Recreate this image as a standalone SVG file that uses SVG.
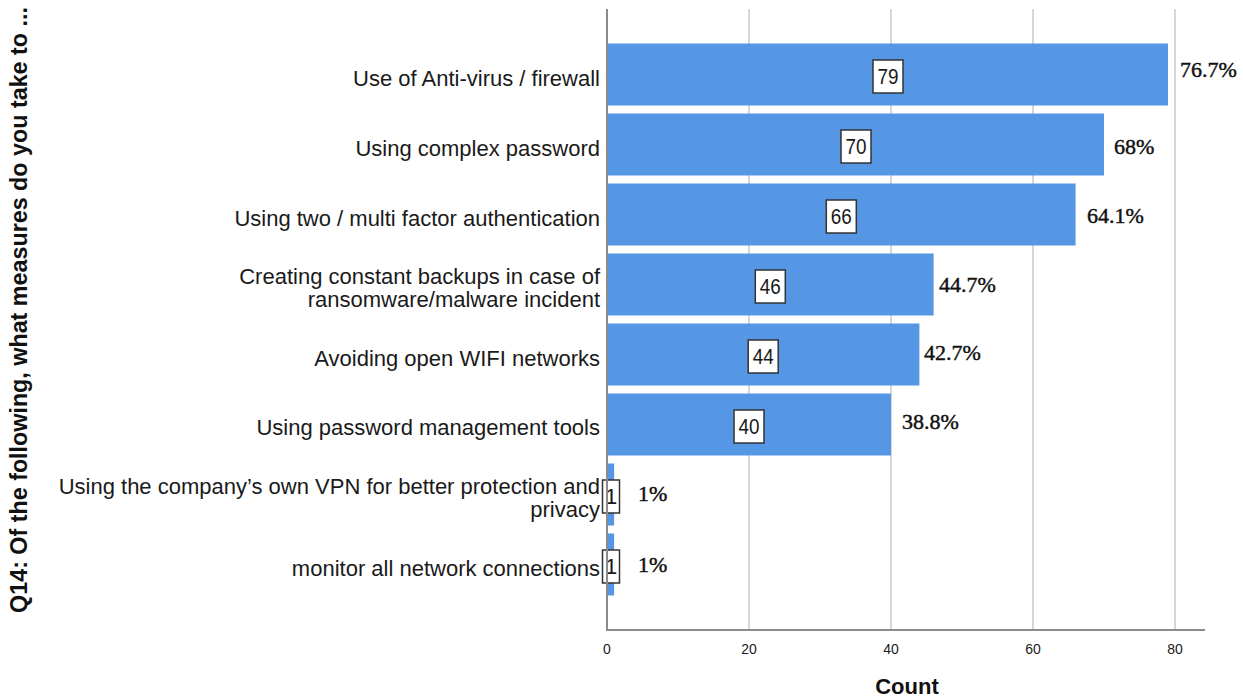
<svg xmlns="http://www.w3.org/2000/svg" width="1243" height="698" viewBox="0 0 1243 698">
  <style>
    .grid { stroke: #d6d6d6; stroke-width: 2; }
    .axis { stroke: #8c8c8c; stroke-width: 2; fill: none; }
    .bar { fill: #5596e5; }
    .cat { font-family: "Liberation Sans", Arial, sans-serif; font-size: 22px; fill: #1a1a1a; text-anchor: end; }
    .box { fill: #ffffff; stroke: #333333; stroke-width: 1.5; }
    .cnt { font-family: "Liberation Sans", Arial, sans-serif; font-size: 22px; fill: #1a1a1a; text-anchor: middle; }
    .pct { font-family: "Liberation Serif", "Times New Roman", serif; font-size: 22px; fill: #111111; stroke: #111111; stroke-width: 0.45; }
    .tick { font-family: "Liberation Sans", Arial, sans-serif; font-size: 14px; fill: #1a1a1a; text-anchor: middle; }
    .title { font-family: "Liberation Sans", Arial, sans-serif; font-size: 22px; font-weight: bold; fill: #111111; text-anchor: middle; }
  </style>
  <rect width="1243" height="698" fill="#ffffff"/>

  <!-- gridlines: 0..80 at 7.1 px per unit -->
  <g id="gridlines">
    <line class="grid" x1="749" y1="9" x2="749" y2="630"/>
    <line class="grid" x1="891" y1="9" x2="891" y2="630"/>
    <line class="grid" x1="1033" y1="9" x2="1033" y2="630"/>
    <line class="grid" x1="1175" y1="9" x2="1175" y2="630"/>
  </g>

  <!-- bars, one group per category -->
  <g id="row-antivirus">
    <text class="cat" x="600" y="86">Use of Anti-virus / firewall</text>
    <rect class="bar" x="607" y="43.5" width="561" height="62"/>
    <rect class="box" x="873" y="60" width="30" height="33"/>
    <text class="cnt" x="888" y="84" textLength="21" lengthAdjust="spacingAndGlyphs">79</text>
    <text class="pct" x="1180" y="77">76.7%</text>
  </g>
  <g id="row-password">
    <text class="cat" x="600" y="156">Using complex password</text>
    <rect class="bar" x="607" y="113.5" width="497" height="62"/>
    <rect class="box" x="841" y="130" width="30" height="33"/>
    <text class="cnt" x="856" y="154" textLength="21" lengthAdjust="spacingAndGlyphs">70</text>
    <text class="pct" x="1114" y="154">68%</text>
  </g>
  <g id="row-mfa">
    <text class="cat" x="600" y="226">Using two / multi factor authentication</text>
    <rect class="bar" x="607" y="183.5" width="468.6" height="62"/>
    <rect class="box" x="826.3" y="200" width="30" height="33"/>
    <text class="cnt" x="841.3" y="224" textLength="21" lengthAdjust="spacingAndGlyphs">66</text>
    <text class="pct" x="1087" y="223">64.1%</text>
  </g>
  <g id="row-backups">
    <text class="cat" x="600" y="284">Creating constant backups in case of</text>
    <text class="cat" x="600" y="307">ransomware/malware incident</text>
    <rect class="bar" x="607" y="253.5" width="326.6" height="62"/>
    <rect class="box" x="755.3" y="270" width="30" height="33"/>
    <text class="cnt" x="770.3" y="294" textLength="21" lengthAdjust="spacingAndGlyphs">46</text>
    <text class="pct" x="939" y="292">44.7%</text>
  </g>
  <g id="row-wifi">
    <text class="cat" x="600" y="366">Avoiding open WIFI networks</text>
    <rect class="bar" x="607" y="323.5" width="312.4" height="62"/>
    <rect class="box" x="748.2" y="340" width="30" height="33"/>
    <text class="cnt" x="763.2" y="364" textLength="21" lengthAdjust="spacingAndGlyphs">44</text>
    <text class="pct" x="924" y="360">42.7%</text>
  </g>
  <g id="row-pwtools">
    <text class="cat" x="600" y="435">Using password management tools</text>
    <rect class="bar" x="607" y="393.5" width="284" height="62"/>
    <rect class="box" x="734" y="410" width="30" height="33"/>
    <text class="cnt" x="749" y="434" textLength="21" lengthAdjust="spacingAndGlyphs">40</text>
    <text class="pct" x="902" y="429">38.8%</text>
  </g>
  <g id="row-vpn">
    <text class="cat" x="600" y="494">Using the company’s own VPN for better protection and</text>
    <text class="cat" x="600" y="517">privacy</text>
    <rect class="bar" x="607" y="463.5" width="7.1" height="62"/>
    <rect class="box" x="602.5" y="480" width="17" height="33"/>
    <text class="cnt" x="611" y="504">1</text>
    <text class="pct" x="638" y="501">1%</text>
  </g>
  <g id="row-monitor">
    <text class="cat" x="600" y="576">monitor all network connections</text>
    <rect class="bar" x="607" y="533.5" width="7.1" height="62"/>
    <rect class="box" x="602.5" y="550" width="17" height="33"/>
    <text class="cnt" x="611" y="574">1</text>
    <text class="pct" x="638" y="572">1%</text>
  </g>

  <!-- axes, ticks and titles -->
  <g id="axes">
    <polyline class="axis" points="607,9 607,630 1205,630"/>
    <text class="tick" x="607" y="654">0</text>
    <text class="tick" x="749" y="654">20</text>
    <text class="tick" x="891" y="654">40</text>
    <text class="tick" x="1033" y="654">60</text>
    <text class="tick" x="1175" y="654">80</text>
    <text class="title" x="907" y="694">Count</text>
    <text class="title" style="font-size:23.3px" transform="translate(27,310) rotate(-90)" x="0" y="0">Q14: Of the following, what measures do you take to ...</text>
  </g>
</svg>
